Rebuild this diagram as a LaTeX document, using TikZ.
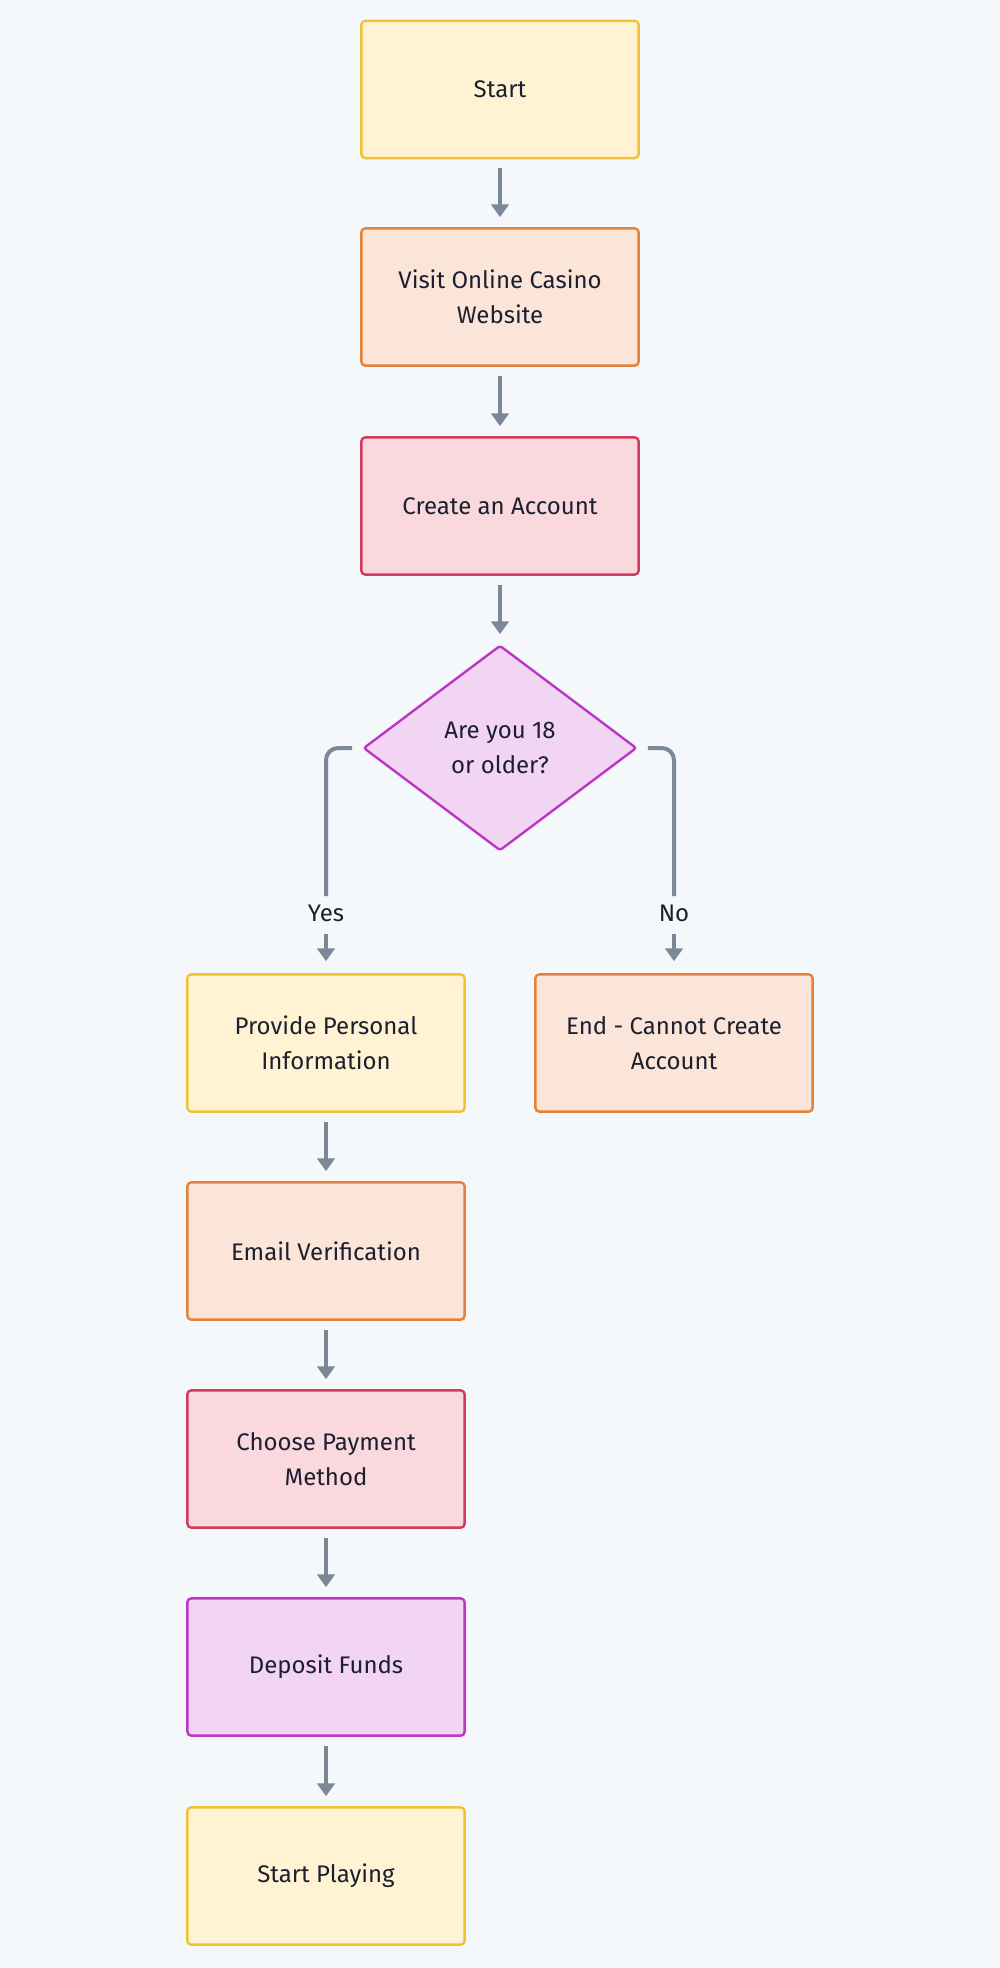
\documentclass[tikz,border=0pt]{standalone}
\usepackage{fontspec}
\setmainfont{Fira Sans}
\usetikzlibrary{arrows.meta,shapes.geometric}

\definecolor{bgc}{HTML}{F5F8FB}
\definecolor{ink}{HTML}{1C1F30}
\definecolor{edgec}{HTML}{7B8898}
\definecolor{yelF}{HTML}{FFF3D3}
\definecolor{yelD}{HTML}{F0C23A}
\definecolor{orgF}{HTML}{FBE5D8}
\definecolor{orgD}{HTML}{E5823A}
\definecolor{redF}{HTML}{F9D8DE}
\definecolor{redD}{HTML}{D43A5B}
\definecolor{pnkF}{HTML}{F1D5F3}
\definecolor{pnkD}{HTML}{BE36C6}

\begin{document}
\begin{tikzpicture}[x=0.75pt,y=-0.75pt,font=\fontsize{18}{26.25}\selectfont,text=ink,
	box/.style={rectangle,rounded corners=3pt,line width=1.8pt,minimum width=208pt,minimum height=103pt,align=center},
	yel/.style={box,fill=yelF,draw=yelD},
	org/.style={box,fill=orgF,draw=orgD},
	red/.style={box,fill=redF,draw=redD},
	pnk/.style={box,fill=pnkF,draw=pnkD},
	dia/.style={diamond,rounded corners=2pt,line width=1.8pt,fill=pnkF,draw=pnkD,minimum width=205pt,minimum height=154pt,inner sep=0pt,align=center},
	lbl/.style={inner sep=0pt,minimum height=27.75pt,text height=12.5pt,text depth=3.5pt},
	flow/.style={draw=edgec,line width=3pt,-{Triangle[width=13pt,length=9.5pt]},shorten <=6.75pt,shorten >=7.5pt},
	branch/.style={draw=edgec,line width=3pt,rounded corners=9pt,shorten <=7.5pt}]
	\fill[bgc] (0,0) rectangle (1000,1968);
	\useasboundingbox (0,0) rectangle (1000,1968);

	\node[yel] (start) at (500,89.5) {Start};
	\node[org] (visit) at (500,297) {Visit Online Casino\\Website};
	\node[red] (acct) at (500,506) {Create an Account};
	\node[dia] (age) at (500,748) {Are you 18\\or older?};
	\node[lbl] (yes) at (326,915) {Yes};
	\node[lbl] (no) at (674,915) {No};
	\node[yel] (info) at (326,1043) {Provide Personal\\Information};
	\node[org] (stop) at (674,1043) {End - Cannot Create\\Account};
	\node[org] (mail) at (326,1251) {Email Verification};
	\node[red] (pay) at (326,1459) {Choose Payment\\Method};
	\node[pnk] (fund) at (326,1667) {Deposit Funds};
	\node[yel] (play) at (326,1876) {Start Playing};

	\draw[flow] (start) -- (visit);
	\draw[flow] (visit) -- (acct);
	\draw[flow] (acct) -- (age);
	\draw[branch] (age.west) -| (yes);
	\draw[branch] (age.east) -| (no);
	\draw[flow,shorten <=0pt,shorten >=9pt] (yes) -- (info);
	\draw[flow,shorten <=0pt,shorten >=9pt] (no) -- (stop);
	\draw[flow] (info) -- (mail);
	\draw[flow] (mail) -- (pay);
	\draw[flow] (pay) -- (fund);
	\draw[flow] (fund) -- (play);
\end{tikzpicture}
\end{document}
